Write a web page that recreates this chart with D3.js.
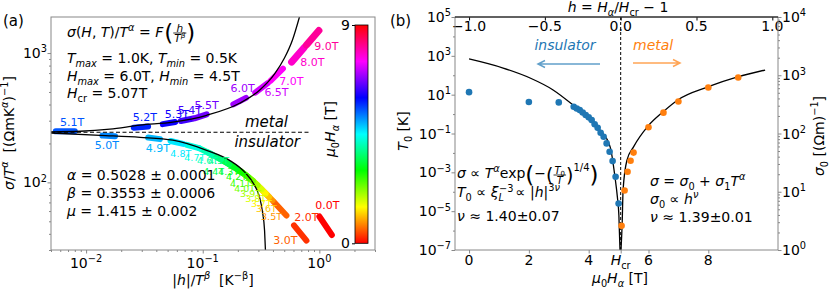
<!DOCTYPE html>
<meta charset="utf-8">
<script src="https://cdn.jsdelivr.net/npm/d3@7"></script>
<style>
body { margin: 0; background: #fff; }
svg text { font-family: "DejaVu Sans", sans-serif; fill: #000; white-space: pre; }
</style>
<body>
<script>

// ---------- panel (a): scaling collapse ----------
var fieldsA = [0, 2, 3, 3.5, 3.6, 3.7, 3.8, 3.9, 4.0, 4.1, 4.2, 4.3, 4.4, 4.5, 4.6, 4.7, 4.8, 4.9, 5.0, 5.1, 5.2, 5.3, 5.4, 5.5, 6.0, 6.5, 7.0, 8.0, 9.0]
// |h|/T^beta at both ends of each field's band
var bandX0 = [1.0, 0.606, 0.408, 0.310, 0.290, 0.270, 0.250, 0.231, 0.211, 0.191, 0.172, 0.152, 0.132, 0.112, 0.093, 0.073, 0.053, 0.034, 0.0138, 0.0055, 0.0256, 0.0454, 0.065, 0.085, 0.183, 0.282, 0.381, 0.578, 0.775]
var bandX1 = [1.28, 0.775, 0.522, 0.396, 0.371, 0.346, 0.320, 0.295, 0.270, 0.245, 0.219, 0.194, 0.169, 0.144, 0.119, 0.093, 0.068, 0.043, 0.0177, 0.008, 0.034, 0.058, 0.083, 0.108, 0.235, 0.361, 0.487, 0.739, 0.991]
// sigma/T^alpha at both ends
var bandY0 = [54.5, 46.5, 70.6, 90.6, 96.3, 102.8, 108.6, 115, 122.4, 129.5, 137, 146.6, 157, 169.5, 184, 195, 209, 222, 230, 248, 265, 282, 298, 313, 401, 494, 609, 851, 1153]
var bandY1 = [39.2, 35.5, 55.5, 72.7, 77.1, 82, 88.2, 94.8, 102.8, 110, 119, 128.4, 138, 151, 165, 184, 198.6, 216, 227.6, 249, 270, 293, 312, 336, 450, 586, 757, 1099, 1493]
// field labels, data units
var labelX = [1.17, 0.774, 0.512, 0.389, 0.352, 0.319, 0.284, 0.257, 0.229, 0.211, 0.195, 0.167, 0.124, 0.137, 0.110, 0.0855, 0.0649, 0.0412, 0.0151, 0.00759, 0.0319, 0.0600, 0.0774, 0.108, 0.220, 0.429, 0.576, 0.871, 1.15]
var labelY = [66.4, 53.5, 35.5, 54.5, 63, 69, 75, 82, 90, 98, 111, 120, 122, 148, 146, 156, 168, 184, 194, 292, 319, 337, 362, 395, 535, 499, 607, 851, 1132]
// fitted scaling function, both branches
var metalFitX = [0.005, 0.0089, 0.016, 0.029, 0.0554, 0.108, 0.207, 0.307, 0.412, 0.502, 0.588, 0.675]
var metalFitY = [246, 248.5, 258, 277, 292, 330, 409, 516, 687, 915, 1262, 1900]
var insulFitX = [0.005, 0.0132, 0.029, 0.0554, 0.108, 0.170, 0.229, 0.278, 0.307, 0.326, 0.339, 0.345]
var insulFitY = [241, 231, 223, 212, 177, 148, 120, 95, 77, 58.5, 42.5, 29.7]
var separatrix = 244

// ---------- panel (b): T0 and sigma0 vs field ----------
var Hcr = 5.07
var insH = [0, 2, 3, 3.5, 3.6, 3.7, 3.8, 3.9, 4.0, 4.1, 4.2, 4.3, 4.4, 4.5, 4.6, 4.7, 4.8, 4.9, 5.0]
var insT0 = [13.5, 4.2, 4.0, 2.4, 1.95, 1.6, 1.2, 0.89, 0.68, 0.49, 0.30, 0.195, 0.11, 0.068, 0.031, 0.0115, 0.0038, 5.9e-4, 2.5e-5]
var metH = [5.1, 5.2, 5.3, 5.4, 5.5, 6.0, 6.5, 7.0, 8.0, 9.0]
var metSigma0 = [2.6, 10.5, 22, 34, 47, 128, 228, 355, 615, 915]
var insFitH = [0, 1.14, 2.04, 2.81, 3.48, 3.95, 4.38, 4.72, 4.88, 4.96, 5.01, 5.047]
var insFitT0 = [690, 235, 72, 17.5, 2.9, 0.7, 0.15, 0.02, 5.6e-4, 5.2e-5, 6e-6, 1e-7]
var metFitH = [5.08, 5.12, 5.15, 5.28, 5.50, 5.99, 6.49, 6.99, 7.98, 8.98, 9.90]
var metFitS = [1, 2.9, 10.7, 35, 59, 135, 236, 380, 630, 935, 1230]


var svg = d3.select("body").append("svg").attr("width", 830).attr("height", 290).style("display", "block")
var defs = svg.append("defs")
var grey = "#888"

// little mathtext: {flags|text}, flags i=italic ^=sup _=sub
function rich(g, x, y, src, size, anchor) {
  var t = g.append("text").attr("x", x).attr("y", y)
           .style("font-size", size + "px").attr("text-anchor", anchor || "start")
  var re = /\{([^|}]*)\|([^}]*)\}|([^{]+)/g, m, prev = 0
  while ((m = re.exec(src)) !== null) {
    var f = m[1] !== undefined ? m[1] : "", s = m[1] !== undefined ? m[2] : m[3]
    var shift = 0, fs = size
    if (f.indexOf("^") >= 0) { shift = -0.4 * size; fs = 0.7 * size }
    if (f.indexOf("_") >= 0) { shift = 0.25 * size; fs = 0.7 * size }
    var ts = t.append("tspan").attr("dy", (shift - prev).toFixed(2)).style("font-size", fs + "px").text(s)
    if (f.indexOf("i") >= 0) ts.style("font-style", "italic")
    prev = shift
  }
  return t
}
function wid(t) { return t.node().getComputedTextLength() }

function frac(g, x, yBar, num, den, size) {
  var n = rich(g, 0, yBar - 1.5, num, size, "middle")
  var d = rich(g, 0, yBar + size * 0.9, den, size, "middle")
  var w = Math.max(wid(n), wid(d)) + 2
  n.attr("x", x + w / 2); d.attr("x", x + w / 2)
  g.append("line").attr("x1", x).attr("x2", x + w).attr("y1", yBar).attr("y2", yBar)
   .attr("stroke", "#000").attr("stroke-width", 0.8)
  return w
}

function expLabel(v) {
  var e = Math.round(Math.log10(v))
  return "10{^|" + (e < 0 ? "\u2212" + (-e) : e) + "}"
}

function minorLog(lo, hi) {
  var out = []
  for (var k = Math.floor(Math.log10(lo)); k <= Math.ceil(Math.log10(hi)); k++)
    for (var m = 2; m <= 9; m++) { var v = m * Math.pow(10, k); if (v >= lo && v <= hi) out.push(v) }
  return out
}

function styleAxis(g, col) {
  g.select(".domain").remove()
  g.selectAll("line").attr("stroke", col || grey)
  g.selectAll("text").remove()
}

function colorOf(i) { return d3.hsl(i / (fieldsA.length - 1) * 324, 1, 0.5).toString() }

// =============== panel (a) ===============
var xA = d3.scaleLog().domain([0.005, 3]).range([51, 375])
var yA = d3.scaleLog().domain([30, 1900]).range([250, 17])
var ga = svg.append("g")

defs.append("clipPath").attr("id", "clipA").append("rect")
    .attr("x", 51).attr("y", 17).attr("width", 324).attr("height", 233)

ga.append("g").attr("transform", "translate(0,250)")
  .call(d3.axisBottom(xA).tickValues([0.01, 0.1, 1]).tickSize(3.5)).call(styleAxis)
ga.append("g").attr("transform", "translate(0,250)")
  .call(d3.axisBottom(xA).tickValues(minorLog(0.005, 3)).tickSize(2)).call(styleAxis)
ga.append("g").attr("transform", "translate(51,0)")
  .call(d3.axisLeft(yA).tickValues([100, 1000]).tickSize(3.5)).call(styleAxis)
ga.append("g").attr("transform", "translate(51,0)")
  .call(d3.axisLeft(yA).tickValues(minorLog(30, 1900)).tickSize(2)).call(styleAxis)

;[0.01, 0.1, 1].forEach(function(v) { rich(ga, xA(v), 268, expLabel(v), 14, "middle") })
;[100, 1000].forEach(function(v) { rich(ga, 47, yA(v) + 5, expLabel(v), 14, "end") })

var plotA = ga.append("g").attr("clip-path", "url(#clipA)")

fieldsA.forEach(function(f, i) {
  plotA.append("line")
       .attr("x1", xA(bandX0[i])).attr("y1", yA(bandY0[i]))
       .attr("x2", xA(bandX1[i])).attr("y2", yA(bandY1[i]))
       .attr("stroke", colorOf(i)).attr("stroke-width", f >= 8 ? 7 : 6)
       .attr("stroke-linecap", "round")
})

var lineA = d3.line().x(function(d) { return xA(d[0]) }).y(function(d) { return yA(d[1]) }).curve(d3.curveMonotoneX)
plotA.append("path").attr("d", lineA(d3.zip(metalFitX, metalFitY)))
     .attr("fill", "none").attr("stroke", "#000").attr("stroke-width", 1.3)
plotA.append("path").attr("d", lineA(d3.zip(insulFitX, insulFitY)))
     .attr("fill", "none").attr("stroke", "#000").attr("stroke-width", 1.3)
plotA.append("line").attr("x1", xA(0.005)).attr("x2", xA(0.82))
     .attr("y1", yA(separatrix)).attr("y2", yA(separatrix))
     .attr("stroke", "#000").attr("stroke-width", 1.1).attr("stroke-dasharray", "4,2.5")

fieldsA.forEach(function(f, i) {
  ga.append("text").attr("x", xA(labelX[i])).attr("y", yA(labelY[i])).attr("dy", "0.35em")
    .attr("text-anchor", "middle")
    .style("font-size", (f >= 3.5 && f <= 4.8) ? "9.5px" : "11px")
    .style("fill", colorOf(i)).text(f.toFixed(1) + "T")
})

ga.append("rect").attr("x", 51).attr("y", 17).attr("width", 324).attr("height", 233)
  .attr("fill", "none").attr("stroke", grey).attr("stroke-width", 1)

// annotations (a)
var t1 = rich(ga, 67, 37, "{i|σ}({i|H}, {i|T})/{i|T}{^i|α} = {i|F}", 14)
var cx = 67 + wid(t1) + 1
var p1 = ga.append("text").attr("x", cx).attr("y", 41).style("font-size", "23px").text("(")
cx += wid(p1)
cx += frac(ga, cx, 33, "{i|h}", "{i|T}{^i|β}", 10.5)
ga.append("text").attr("x", cx).attr("y", 41).style("font-size", "23px").text(")")

rich(ga, 67, 63, "{i|T}{_i|max} = 1.0K, {i|T}{_i|min} = 0.5K", 14)
rich(ga, 67, 81, "{i|H}{_i|max} = 6.0T, {i|H}{_i|min} = 4.5T", 14)
rich(ga, 67, 98, "{i|H}{_|cr} = 5.07T", 14)
rich(ga, 67, 180, "{i|α} = 0.5028 ± 0.0001", 14)
rich(ga, 67, 198, "{i|β} = 0.3553 ± 0.0006", 14)
rich(ga, 67, 216, "{i|μ} = 1.415 ± 0.002", 14)
rich(ga, 288, 127, "{i|metal}", 15, "end")
rich(ga, 300, 147, "{i|insulator}", 15, "end")

rich(svg, 3, 26, "(a)", 15)
rich(ga, 213, 285, "|{i|h}|/{i|T}{^i|β}  [K{^|−β}]", 14, "middle")
rich(ga, 0, 0, "{i|σ}/{i|T}{^i|α}  [(ΩmK{^i|α}){^|−1}]", 14, "middle")
  .attr("transform", "translate(14,133) rotate(-90)")

// colorbar
var grad = defs.append("linearGradient").attr("id", "cbGrad")
               .attr("x1", 0).attr("y1", 1).attr("x2", 0).attr("y2", 0)
d3.range(0, 13).forEach(function(k) {
  grad.append("stop").attr("offset", k / 12).attr("stop-color", d3.hsl(k / 12 * 360, 1, 0.5).toString())
})
var cb = d3.scaleLinear().domain([0, 9]).range([243.3, 25])
ga.append("rect").attr("x", 355).attr("y", 25).attr("width", 13).attr("height", 218.3)
  .attr("fill", "url(#cbGrad)").attr("stroke", "#000").attr("stroke-width", 0.8)
ga.append("g").attr("transform", "translate(355,0)")
  .call(d3.axisLeft(cb).tickValues([0, 9]).tickSize(3)).call(function(g) { styleAxis(g, "#000") })
;[0, 9].forEach(function(v) { rich(ga, 350, cb(v) + 5, String(v), 14, "end") })
rich(ga, 0, 0, "{i|μ}{_|0}{i|H}{_i|α} [T]", 14, "middle").attr("transform", "translate(335,129) rotate(-90)")

// =============== panel (b) ===============
var xB = d3.scaleLinear().domain([-0.47, 10.33]).range([455, 778])
var hB = d3.scaleLinear().domain([-0.47 / Hcr - 1, 10.33 / Hcr - 1]).range([455, 778])
var yT = d3.scaleLog().domain([1e-7, 1e5]).range([250, 17])
var yS = d3.scaleLog().domain([1, 1e4]).range([250, 17])
var gb = svg.append("g")

defs.append("clipPath").attr("id", "clipB").append("rect")
    .attr("x", 455).attr("y", 17).attr("width", 323).attr("height", 233)

var tMajor = [1e-7, 1e-5, 1e-3, 1e-1, 1e1, 1e3, 1e5]
var tMinor = [1e-6, 1e-4, 1e-2, 1, 1e2, 1e4]
var sMajor = [1, 10, 100, 1000, 10000]

gb.append("g").attr("transform", "translate(0,250)")
  .call(d3.axisBottom(xB).tickValues([0, 2, 4, Hcr, 6, 8]).tickSize(3.5)).call(styleAxis)
gb.append("g").attr("transform", "translate(0,17)")
  .call(d3.axisBottom(hB).tickValues([-1, -0.5, 0, 0.5, 1]).tickSize(3.5)).call(function(g) { styleAxis(g, "#000") })
gb.append("g").attr("transform", "translate(455,0)")
  .call(d3.axisLeft(yT).tickValues(tMajor).tickSize(3.5)).call(styleAxis)
gb.append("g").attr("transform", "translate(455,0)")
  .call(d3.axisLeft(yT).tickValues(tMinor).tickSize(2)).call(styleAxis)
gb.append("g").attr("transform", "translate(778,0)")
  .call(d3.axisRight(yS).tickValues(sMajor).tickSize(3.5)).call(styleAxis)
gb.append("g").attr("transform", "translate(778,0)")
  .call(d3.axisRight(yS).tickValues(minorLog(1, 1e4)).tickSize(2)).call(styleAxis)

;[0, 2, 4, 6, 8].forEach(function(v) { rich(gb, xB(v), 265, String(v), 14, "middle") })
rich(gb, xB(Hcr), 265, "{i|H}{_|cr}", 14, "middle")
;[-1, -0.5, 0, 0.5, 1].forEach(function(v) {
  rich(gb, hB(v), 31, d3.format(".1f")(v), 14, "middle")
})
tMajor.forEach(function(v) { rich(gb, 451, yT(v) + 5, expLabel(v), 14, "end") })
sMajor.forEach(function(v) { rich(gb, 782, yS(v) + 5, expLabel(v), 14, "start") })

var plotB = gb.append("g").attr("clip-path", "url(#clipB)")
plotB.append("line").attr("x1", xB(Hcr)).attr("x2", xB(Hcr)).attr("y1", 17).attr("y2", 250)
     .attr("stroke", "#000").attr("stroke-width", 1).attr("stroke-dasharray", "3,2")

var lineT = d3.line().x(function(d) { return xB(d[0]) }).y(function(d) { return yT(d[1]) }).curve(d3.curveMonotoneX)
var lineS = d3.line().x(function(d) { return xB(d[0]) }).y(function(d) { return yS(d[1]) }).curve(d3.curveMonotoneX)
plotB.append("path").attr("d", lineT(d3.zip(insFitH, insFitT0)))
     .attr("fill", "none").attr("stroke", "#000").attr("stroke-width", 1.3)
plotB.append("path").attr("d", lineS(d3.zip(metFitH, metFitS)))
     .attr("fill", "none").attr("stroke", "#000").attr("stroke-width", 1.3)

plotB.selectAll("circle.ins").data(d3.zip(insH, insT0)).join("circle").attr("class", "ins")
     .attr("cx", function(d) { return xB(d[0]) }).attr("cy", function(d) { return yT(d[1]) })
     .attr("r", 3.3).attr("fill", "#1f77b4")
plotB.selectAll("circle.met").data(d3.zip(metH, metSigma0)).join("circle").attr("class", "met")
     .attr("cx", function(d) { return xB(d[0]) }).attr("cy", function(d) { return yS(d[1]) })
     .attr("r", 3.3).attr("fill", "#ff7f0e")

gb.append("rect").attr("x", 455).attr("y", 17).attr("width", 323).attr("height", 233)
  .attr("fill", "none").attr("stroke", grey).attr("stroke-width", 1)
gb.append("line").attr("x1", 455).attr("x2", 778).attr("y1", 17).attr("y2", 17)
  .attr("stroke", "#000").attr("stroke-width", 1)

// arrows and phase names
function arrow(g, x1, x2, y, col) {
  var s = x2 > x1 ? -1 : 1
  g.append("path").attr("d", "M" + x1 + "," + y + "L" + x2 + "," + y +
      "M" + (x2 + s * 7) + "," + (y - 3.5) + "L" + x2 + "," + y + "L" + (x2 + s * 7) + "," + (y + 3.5))
   .attr("fill", "none").attr("stroke", col).attr("stroke-width", 1.5)
}
rich(gb, 565, 50, "{i|insulator}", 14, "middle").style("fill", "#1f77b4")
arrow(gb, 600, 538, 64, "#62a0ca")
rich(gb, 633, 50, "{i|metal}", 14, "start").style("fill", "#ff7f0e")
arrow(gb, 633, 680, 63, "#ffa556")

// formulas (b), left
var c = 457
var u = rich(gb, c, 178, "{i|σ} ∝ {i|T}{^i|α}exp", 14); c += wid(u)
u = gb.append("text").attr("x", c).attr("y", 183).style("font-size", "23px").text("("); c += wid(u)
u = rich(gb, c, 178, "−", 14); c += wid(u)
u = gb.append("text").attr("x", c).attr("y", 182).style("font-size", "19px").text("("); c += wid(u)
c += frac(gb, c, 175, "{i|T}{_|0}", "{i|T}", 10)
u = gb.append("text").attr("x", c).attr("y", 182).style("font-size", "19px").text(")"); c += wid(u)
u = rich(gb, c, 171, "1/4", 10); c += wid(u)
gb.append("text").attr("x", c).attr("y", 183).style("font-size", "23px").text(")")

c = 457
u = rich(gb, c, 197, "{i|T}{_|0} ∝ {i|ξ}", 14); c += wid(u)
rich(gb, c + 0.5, 191.5, "−3", 9.8)
rich(gb, c, 200.5, "{i|L}", 9.8)
rich(gb, c + 17, 197, "∝ |{i|h}|{^|3}{^i|ν}", 14)
rich(gb, 457, 221, "{i|ν} ≈ 1.40±0.07", 14)

// formulas (b), right
rich(gb, 650, 186, "{i|σ} = {i|σ}{_|0} + {i|σ}{_|1}{i|T}{^i|α}", 14)
rich(gb, 650, 204, "{i|σ}{_|0} ∝ {i|h}{^i|ν}", 14)
rich(gb, 650, 222, "{i|ν} ≈ 1.39±0.01", 14)

rich(svg, 390, 26, "(b)", 15)
rich(gb, 618, 12, "{i|h} = {i|H}{_i|α}/{i|H}{_|cr} − 1", 14, "middle")
rich(gb, 620, 283, "{i|μ}{_|0}{i|H}{_i|α} [T]", 14, "middle")
rich(gb, 0, 0, "{i|T}{_|0} [K]", 14, "middle").attr("transform", "translate(408,131) rotate(-90)")
rich(gb, 0, 0, "{i|σ}{_|0} [(Ωm){^|−1}]", 14, "middle").attr("transform", "translate(824,136) rotate(-90)")

</script>
</body>
